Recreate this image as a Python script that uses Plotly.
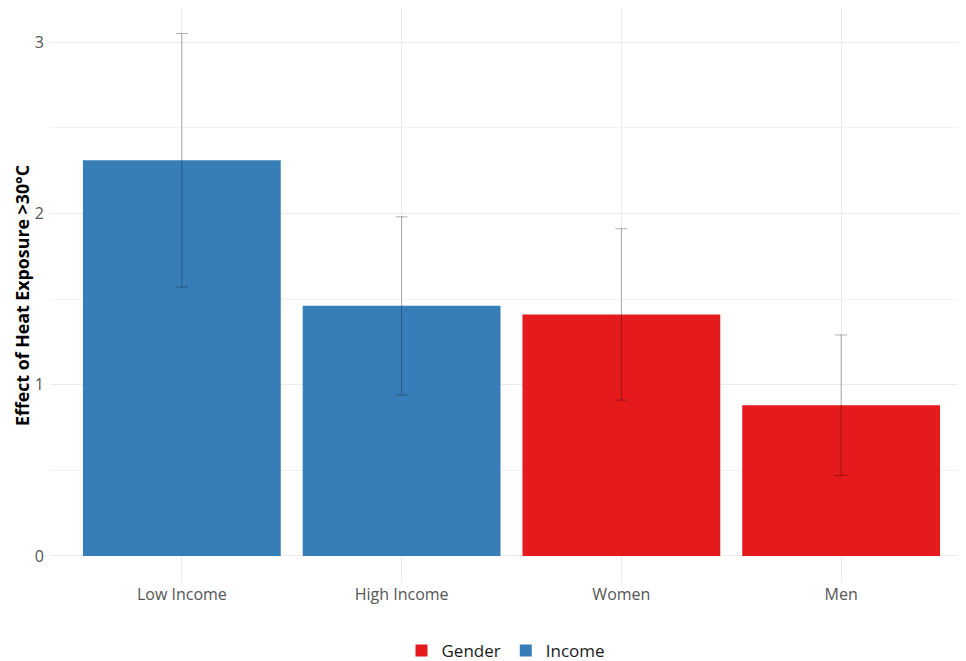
import plotly.graph_objects as go

categories = ["Low Income", "High Income", "Women", "Men"]
groups = ["Income", "Income", "Gender", "Gender"]
effects = [2.31, 1.46, 1.41, 0.88]
ci_low = [1.57, 0.94, 0.91, 0.47]
ci_high = [3.05, 1.98, 1.91, 1.29]

colors = {"Gender": "#E41A1C", "Income": "#377EB8"}

fig = go.Figure()
for g in ["Gender", "Income"]:
    idx = [i for i, gg in enumerate(groups) if gg == g]
    xs = [categories[i] for i in idx]
    ys = [effects[i] for i in idx]
    plus = [ci_high[i] - effects[i] for i in idx]
    minus = [effects[i] - ci_low[i] for i in idx]
    fig.add_trace(go.Bar(
        x=xs, y=ys, name=g, width=0.9,
        marker=dict(color=colors[g], line=dict(width=0)),
        error_y=dict(type="data", symmetric=False, array=plus, arrayminus=minus,
                     color="rgba(0,0,0,0.3)", thickness=1, width=6),
    ))

fig.update_layout(
    width=958, height=653,
    barmode="overlay",
    plot_bgcolor="white", paper_bgcolor="white",
    font=dict(family="Open Sans, sans-serif", color="#4d4d4d", size=15),
    margin=dict(l=42, r=4, t=0, b=78, autoexpand=False),
    showlegend=True,
    legend=dict(orientation="h", x=0.5, xanchor="center", y=-0.118, yanchor="middle",
                font=dict(size=17, color="#1a1a1a"), traceorder="normal"),
    xaxis=dict(categoryorder="array", categoryarray=categories,
               range=[-0.6, 3.55], showgrid=True, gridcolor="#ebebeb", gridwidth=1.2,
               ticks="", zeroline=False, showline=False, automargin=False,
               tickfont=dict(size=16, color="#555555")),
    yaxis=dict(range=[-0.158, 3.199], tickvals=[0, 1, 2, 3], showgrid=True,
               gridcolor="#ebebeb", gridwidth=1.3, zeroline=False, showline=False,
               automargin=False,
               minor=dict(tickvals=[0.5, 1.5, 2.5], showgrid=True, gridcolor="#f2f2f2", gridwidth=0.9),
               tickfont=dict(size=16, color="#555555"), ticklabelstandoff=5,
               title=dict(text="<b>Effect of Heat Exposure >30°C</b>", font=dict(size=17.8, color="black"),
                          standoff=0)),
)

fig.write_html("out.html")
